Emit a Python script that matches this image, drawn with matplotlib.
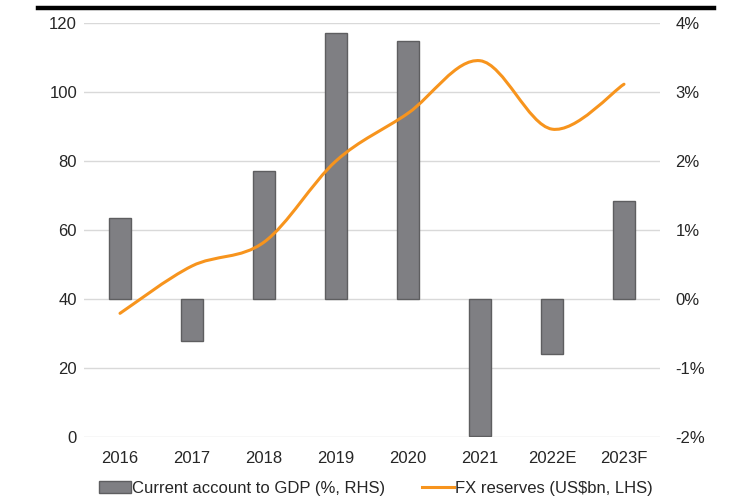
import matplotlib.pyplot as plt
from matplotlib.path import Path
from matplotlib.patches import PathPatch
from matplotlib.lines import Line2D
import matplotlib.ticker as mticker
import numpy as np

plt.rcParams['font.family'] = ['Liberation Sans', 'DejaVu Sans']

# data
years = ['2016', '2017', '2018', '2019', '2020', '2021', '2022E', '2023F']
current_account = [1.17, -0.6, 1.86, 3.85, 3.73, -1.98, -0.79, 1.42]   # % of GDP, RHS
fx_reserves = [35.9, 49.6, 56.5, 80.0, 93.8, 109.0, 89.2, 102.2]       # US$bn, LHS

bar_color = '#7f7f83'
bar_edge = '#5e5e60'
line_color = '#f7941d'
text_color = '#262626'
grid_color = '#d9d9d9'


def smooth_path(xs, ys):
    # excel style smoothed line: cubic bezier through every point
    pts = np.column_stack([xs, ys])
    n = len(pts)
    verts = [pts[0]]
    codes = [Path.MOVETO]
    for i in range(n - 1):
        p0 = pts[i - 1] if i > 0 else pts[i]
        p1 = pts[i]
        p2 = pts[i + 1]
        p3 = pts[i + 2] if i + 2 < n else pts[i + 1]
        c1 = p1 + (p2 - p0) / 6.0
        c2 = p2 - (p3 - p1) / 6.0
        verts += [c1, c2, p2]
        codes += [Path.CURVE4] * 3
    return Path(verts, codes)


fig = plt.figure(figsize=(7.49, 5.04), dpi=100)
ax2 = fig.add_axes([84/749, 1 - 437.4/504, (660-84)/749, (437.4-22.7)/504])
ax = ax2.twinx()
ax.yaxis.tick_left()
ax2.yaxis.tick_right()

x = np.arange(len(years))

# bars on the right axis
ax2.bar(x, current_account, width=0.31, color=bar_color, edgecolor=bar_edge,
        linewidth=1.0, zorder=2)
ax2.set_ylim(-2, 4)
ax2.set_yticks(np.arange(-2, 5, 1))
ax2.yaxis.set_major_formatter(mticker.FuncFormatter(lambda v, p: f'{v:.0f}%'))
ax2.grid(axis='y', color=grid_color, linewidth=1.0, zorder=0)
ax2.set_axisbelow(True)
ax2.set_xlim(-0.5, len(years) - 0.5)
ax2.set_xticks(x)
ax2.set_xticklabels(years)

# line on the left axis, drawn over the bars
ax.set_zorder(ax2.get_zorder() + 1)
ax.patch.set_visible(False)
ax.set_ylim(0, 120)
ax.set_yticks(np.arange(0, 121, 20))
ax.add_patch(PathPatch(smooth_path(x, fx_reserves), facecolor='none',
                       edgecolor=line_color, linewidth=2.2, capstyle='round'))

for a in (ax, ax2):
    for s in a.spines.values():
        s.set_visible(False)
    a.tick_params(length=0, labelsize=12, colors=text_color)
ax2.tick_params(axis='y', pad=11)
ax.tick_params(axis='y', pad=5)
ax2.tick_params(axis='x', pad=10)

# thick rule at the top
fig.add_artist(Line2D([38/749, 714/749], [1 - 8/504, 1 - 8/504],
                      color='black', linewidth=3.2))

handles = [plt.Rectangle((0, 0), 1, 1, facecolor=bar_color, edgecolor=bar_edge, linewidth=1.0),
           Line2D([], [], color=line_color, linewidth=2.2)]
labels = ['Current account to GDP (%, RHS)', 'FX reserves (US$bn, LHS)']
fig.legend(handles, labels, loc='center', bbox_to_anchor=(376/749, 1 - 488/504),
           ncol=2, frameon=False, fontsize=12, handlelength=1.9, handleheight=0.7,
           handletextpad=0.1, columnspacing=2.2, labelcolor=text_color)

fig.savefig('out.png', dpi=100)
